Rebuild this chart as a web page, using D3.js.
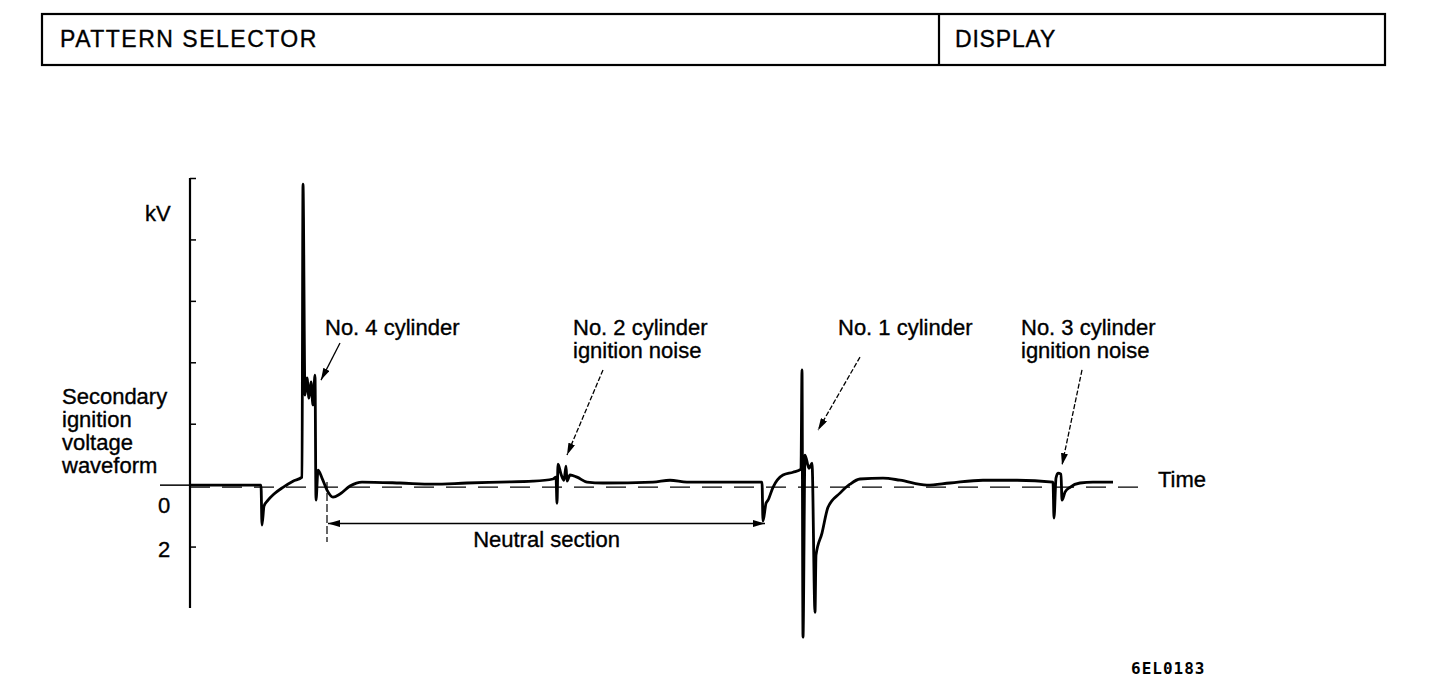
<!DOCTYPE html>
<html>
<head>
<meta charset="utf-8">
<script src="https://cdn.jsdelivr.net/npm/d3@7"></script>
<style>
body { margin: 0; background: #fff; }
text { font-family: "Liberation Sans", Arial, sans-serif; fill: #000; stroke: #000; stroke-width: 0.35px; }
</style>
</head>
<body>
<div id="svgContainer"></div>
<script>
// waveform: time (arbitrary units) and kV
var traceTime = [0, 71, 72, 74, 78, 84, 93, 103, 112, 113, 115, 117, 119, 121, 123, 125, 126, 128, 132, 137,
    143, 150, 160, 172, 210, 243, 277, 310, 343, 363, 366, 367, 368, 371, 374, 376, 377, 380, 387, 397,
    413, 463, 480, 497, 530, 572, 573, 576, 578, 583, 593, 603, 611, 612, 613, 615, 619, 622, 625, 626,
    632, 638, 650, 660, 670, 693, 710, 737, 760, 793, 827, 863, 864, 866, 868, 871, 872, 875, 880, 890,
    903, 923];
var traceKV = [0, 0, -1.30, -0.68, -0.49, -0.29, -0.07, 0.13, 0.26, 9.80, 2.93, 3.49, 2.83, 3.36, 2.61, 3.58, -0.49, 0.49, 0.23, -0.16,
    -0.39, -0.29, -0.03, 0.10, 0.07, 0.03, 0.07, 0.10, 0.13, 0.20, 0.26, -0.59, 0.68, 0.36, 0.16, 0.62, 0.13, 0.33, 0.26, 0.10,
    0.07, 0.10, 0.16, 0.10, 0.10, 0.10, -1.17, -0.59, -0.49, -0.07, 0.33, 0.42, 0.52, 3.75, -4.95, 0.98, 0.55, 0.72, -4.14, -2.28,
    -1.56, -0.72, -0.26, 0.03, 0.20, 0.23, 0.16, 0, 0.07, 0.16, 0.16, 0.10, -1.07, 0.23, 0.39, 0.36, -0.49, -0.23, -0.07, 0.07,
    0.10, 0.10];

// axis ticks (the scale reads downward for the "2")
var yTicks = [-2, 2, 4, 6, 8, 10];
var yLabelValues = [0, -2];
var yLabelText = ["0", "2"];

var headerCells = ["PATTERN SELECTOR", "DISPLAY"];
var noteText = [["No. 4 cylinder"], ["No. 2 cylinder", "ignition noise"], ["No. 1 cylinder"], ["No. 3 cylinder", "ignition noise"]];
var sideLabel = ["Secondary", "ignition", "voltage", "waveform"];
var neutralSpan = [138, 575];
var figureCode = "6EL0183";

var width = 1440, height = 678;

var svg = d3.select("#svgContainer")
    .append("svg")
    .attr("width", width)
    .attr("height", height);

svg.append("rect").attr("width", width).attr("height", height).attr("fill", "#fff");

// arrow heads
var defs = svg.append("defs");
defs.append("marker")
    .attr("id", "head")
    .attr("viewBox", "0 0 12 7")
    .attr("refX", 12).attr("refY", 3.5)
    .attr("markerWidth", 12).attr("markerHeight", 7)
    .attr("markerUnits", "userSpaceOnUse")
    .attr("orient", "auto-start-reverse")
    .append("path").attr("d", "M0,0 L12,3.5 L0,7 Z").attr("fill", "#000");

// header table
var header = svg.append("g");
header.append("rect")
    .attr("x", 42).attr("y", 14).attr("width", 1343).attr("height", 51)
    .attr("fill", "none").attr("stroke", "#000").attr("stroke-width", 2.2);
header.append("line")
    .attr("x1", 939).attr("x2", 939).attr("y1", 14).attr("y2", 65)
    .attr("stroke", "#000").attr("stroke-width", 2.2);
header.selectAll("text.cell")
    .data(headerCells)
    .enter().append("text")
    .attr("class", "cell")
    .attr("x", function(d, i) { return i == 0 ? 60 : 955; })
    .attr("y", 47)
    .style("font-size", "23px")
    .style("letter-spacing", function(d, i) { return i == 0 ? "1.5px" : "0.8px"; })
    .text(function(d) { return d; });

// scales
var x = d3.scaleLinear().domain([0, 960]).range([190, 1150]);
var y = d3.scaleLinear().domain([-4, 10]).range([608, 178]);

// y axis: ticks to the right, no labels
var yAxis = svg.append("g")
    .attr("transform", "translate(" + x(0) + ",0)")
    .call(d3.axisRight(y).tickValues(yTicks).tickSize(6).tickFormat(""));
yAxis.select(".domain").remove();
yAxis.selectAll("line").attr("stroke", "#000").attr("stroke-width", 1.5);
svg.append("line")
    .attr("x1", x(0)).attr("x2", x(0))
    .attr("y1", y(10)).attr("y2", y(-4))
    .attr("stroke", "#000").attr("stroke-width", 2.2);

svg.selectAll("text.ylab")
    .data(yLabelValues)
    .enter().append("text")
    .attr("class", "ylab")
    .attr("x", 164)
    .attr("y", function(d, i) { return y(d) + (i == 0 ? 28 : 10); })
    .attr("text-anchor", "middle")
    .style("font-size", "22px")
    .text(function(d, i) { return yLabelText[i]; });

svg.append("text")
    .attr("x", 145).attr("y", 221)
    .style("font-size", "22px")
    .text("kV");

svg.append("text")
    .selectAll("tspan")
    .data(sideLabel)
    .enter().append("tspan")
    .attr("x", 62)
    .attr("y", function(d, i) { return 404 + i * 23; })
    .style("font-size", "22px")
    .text(function(d) { return d; });

// zero reference: short solid stub left of axis, dashed across the plot
svg.append("line")
    .attr("x1", 160).attr("x2", x(0))
    .attr("y1", y(0)).attr("y2", y(0))
    .attr("stroke", "#000").attr("stroke-width", 1.5);
svg.append("line")
    .attr("x1", x(0)).attr("x2", x(955))
    .attr("y1", y(0) + 2).attr("y2", y(0) + 2)
    .attr("stroke", "#000").attr("stroke-width", 1.3)
    .attr("stroke-dasharray", "20,12");

// the waveform
var line = d3.line()
    .x(function(d) { return x(d[0]); })
    .y(function(d) { return y(d[1]); })
    .curve(d3.curveMonotoneX);
var points = traceTime.map(function(t, i) { return [t, traceKV[i]]; });
svg.append("path")
    .datum(points)
    .attr("d", line)
    .attr("fill", "none")
    .attr("stroke", "#000")
    .attr("stroke-width", 2.8)
    .attr("stroke-linejoin", "round");

svg.append("text")
    .attr("x", 1158).attr("y", 487)
    .style("font-size", "22px")
    .text("Time");

// neutral section
var nLevel = -1.25;
svg.append("line")
    .attr("x1", x(neutralSpan[0] - 1)).attr("x2", x(neutralSpan[0] - 1))
    .attr("y1", y(0.1)).attr("y2", y(-1.85))
    .attr("stroke", "#000").attr("stroke-width", 1.2)
    .attr("stroke-dasharray", "8,3");
svg.append("line")
    .attr("x1", x(neutralSpan[0])).attr("x2", x(neutralSpan[1]))
    .attr("y1", y(nLevel)).attr("y2", y(nLevel))
    .attr("stroke", "#000").attr("stroke-width", 1.5)
    .attr("marker-start", "url(#head)")
    .attr("marker-end", "url(#head)");
svg.append("text")
    .attr("x", x((neutralSpan[0] + neutralSpan[1]) / 2))
    .attr("y", 547)
    .attr("text-anchor", "middle")
    .style("font-size", "22px")
    .text("Neutral section");

// callouts: label position, arrow tail and tip in (time, kV)
var notes = [
    {tx: 325, tail: [150, 4.63], tip: [131, 3.42], dash: null},
    {tx: 573, tail: [413, 3.75], tip: [377, 0.98], dash: "5,2"},
    {tx: 838, tail: [670, 4.17], tip: [628, 1.79], dash: "5,2"},
    {tx: 1021, tail: [892, 3.75], tip: [872, 0.65], dash: "5,2"}
];
notes.forEach(function(n, i) {
    var t = svg.append("text").style("font-size", "22px");
    noteText[i].forEach(function(s, j) {
        t.append("tspan").attr("x", n.tx).attr("y", 335 + j * 23).text(s);
    });
    svg.append("line")
        .attr("x1", x(n.tail[0])).attr("y1", y(n.tail[1]))
        .attr("x2", x(n.tip[0])).attr("y2", y(n.tip[1]))
        .attr("stroke", "#000").attr("stroke-width", 1.3)
        .attr("stroke-dasharray", n.dash)
        .attr("marker-end", "url(#head)");
});

// figure code
svg.append("text")
    .attr("x", 1131).attr("y", 674)
    .style("font-family", "'DejaVu Sans Mono', monospace")
    .style("font-weight", "bold")
    .style("font-size", "16px")
    .style("letter-spacing", "1px")
    .style("stroke-width", "0")
    .text(figureCode);
</script>
</body>
</html>
